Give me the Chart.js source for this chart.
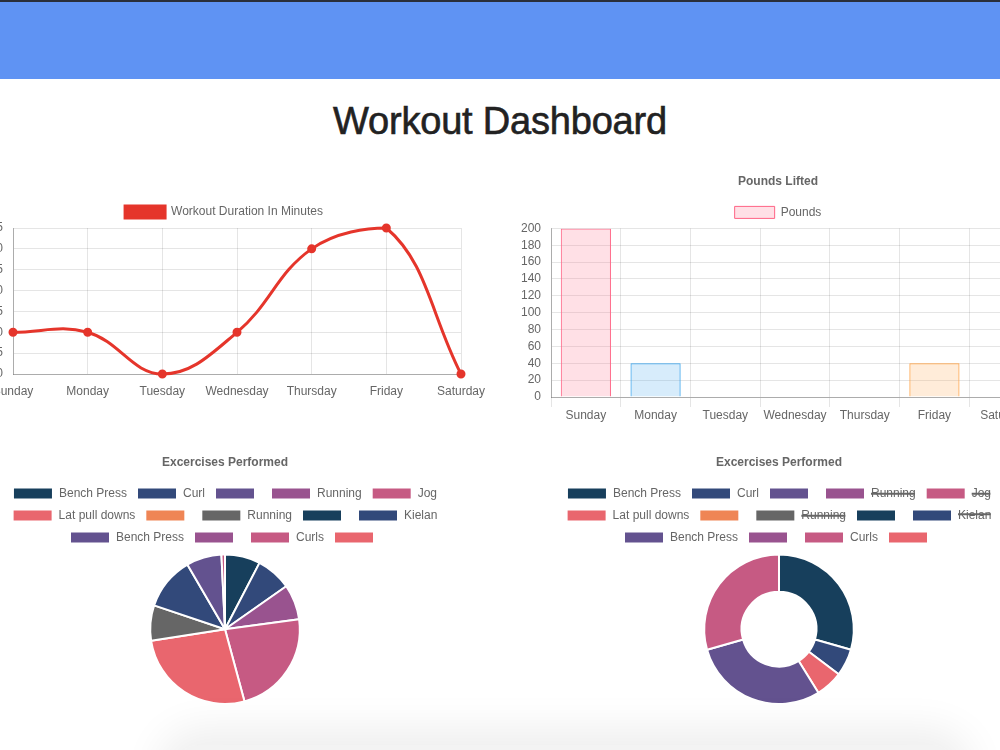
<!DOCTYPE html>
<html>
<head>
<meta charset="utf-8">
<script src="https://cdn.jsdelivr.net/npm/chart.js@4/dist/chart.umd.min.js"></script>
<style>
  html, body { margin: 0; padding: 0; background: #fff; width: 1000px; height: 750px; overflow: hidden; position: relative; font-family: "Liberation Sans", Arial, Helvetica, sans-serif; }
  #header { position: absolute; left: 0; top: 0; width: 1000px; height: 77px; background: #5f93f3; border-top: 2px solid #2a2f3a; }
  #title { position: absolute; left: 0; top: 97px; width: 1000px; text-align: center; font-size: 38px; color: #222; margin: 0; font-weight: normal; line-height: 48px; -webkit-text-stroke: 0.6px #222; letter-spacing: -0.2px; }
  canvas { position: absolute; }
  #card { position: absolute; left: 175px; top: 745px; width: 780px; height: 100px; border-radius: 24px; background: #f3f3f3; box-shadow: 0 0 40px 16px rgba(0,0,0,0.07); }
</style>
</head>
<body>
<div id="header"></div>
<h1 id="title">Workout Dashboard</h1>
<canvas id="lineChart" width="522" height="206" style="left:-37px; top:196px; width:522px; height:206px;"></canvas>
<canvas id="barChart" width="522" height="262" style="left:517px; top:166px; width:522px; height:262px;"></canvas>
<canvas id="pieChart" width="522" height="258" style="left:-36px; top:447px; width:522px; height:258px;"></canvas>
<canvas id="donutChart" width="522" height="258" style="left:518px; top:447px; width:522px; height:258px;"></canvas>
<div id="card"></div>
<script>
// ---------- data ----------
const days = ["Sunday", "Monday", "Tuesday", "Wednesday", "Thursday", "Friday", "Saturday"];
const durationMinutes = [10, 10, 0, 10, 30, 35, 0];
const poundsLifted = [200, 40, 0, 0, 0, 40, 0];
const durationTicks = { min: 0, max: 35, step: 5 };
const poundsTicks = { min: 0, max: 200, step: 20 };

const exerciseLabels = ["Bench Press", "Curl", "", "Running", "Jog", "Lat pull downs", "", "Running", "", "Kielan", "Bench Press", "", "Curls", ""];
const pieValues = [10, 10, 0, 10, 30, 35, 0, 10, 0, 15, 10, 0, 1, 0];
const donutValues = [5, 1, 0, 2, 6, 1, 0, 2, 0, 3, 5, 0, 5, 0];
const donutHidden = [3, 4, 7, 9];

// ---------- styles ----------
const exerciseColors = ["#173f5c", "#32497a", "#63528f", "#99538f", "#c65a83", "#e9666e", "#ef8555", "#666666", "#173f5c", "#32497a", "#63528f", "#99538f", "#c65a83", "#e9666e"];
const barFill = ["rgba(255,99,132,0.2)", "rgba(54,162,235,0.2)", "rgba(255,206,86,0.2)", "rgba(75,192,192,0.2)", "rgba(153,102,255,0.2)", "rgba(255,159,64,0.2)", "rgba(255,99,132,0.2)"];
const barBorder = ["rgba(255,99,132,1)", "rgba(54,162,235,1)", "rgba(255,206,86,1)", "rgba(75,192,192,1)", "rgba(153,102,255,1)", "rgba(255,159,64,1)", "rgba(255,99,132,1)"];
const lineRed = "#e5352b";

Chart.defaults.font.family = "'Helvetica Neue', Helvetica, Arial, 'Liberation Sans', sans-serif";
Chart.defaults.font.size = 12;
Chart.defaults.color = "#666";
Chart.defaults.devicePixelRatio = 1;
Chart.defaults.animation = false;

const gridColor = "rgba(0,0,0,0.1)";
const legendLabels = { boxWidth: 40, boxHeight: 12, padding: 10 };
const titleStyle = (text) => ({ display: true, text: text, color: "#666", font: { size: 12, weight: "bold" }, padding: { top: 8, bottom: 8 } });

// ---------- line ----------
new Chart(document.getElementById("lineChart"), {
  type: "line",
  data: {
    labels: days,
    datasets: [{
      label: "Workout Duration In Minutes",
      data: durationMinutes,
      borderColor: lineRed,
      backgroundColor: lineRed,
      borderWidth: 3,
      tension: 0.4,
      fill: false,
      clip: false,
      pointRadius: 3,
      pointBackgroundColor: lineRed,
      pointBorderColor: lineRed
    }]
  },
  options: {
    responsive: false,
    plugins: { legend: { labels: legendLabels }, title: { display: false }, tooltip: { enabled: false } },
    scales: {
      x: {
        grid: { color: gridColor, drawTicks: false },
        border: { color: "rgba(0,0,0,0.25)" },
        ticks: { padding: 10, maxRotation: 0, autoSkip: false },
        afterFit: (s) => { s.height = 28; s.paddingRight = 24; s.paddingLeft = 0; }
      },
      y: {
        min: durationTicks.min, max: durationTicks.max,
        grid: { color: gridColor, drawTicks: false },
        border: { color: "rgba(0,0,0,0.25)" },
        ticks: { stepSize: durationTicks.step, padding: 10, autoSkip: false },
        afterFit: (s) => { s.width = 50; }
      }
    }
  }
});

// ---------- bar ----------
new Chart(document.getElementById("barChart"), {
  type: "bar",
  data: {
    labels: days,
    datasets: [{
      label: "Pounds",
      data: poundsLifted,
      backgroundColor: barFill,
      borderColor: barBorder,
      borderWidth: 1
    }]
  },
  options: {
    responsive: false,
    plugins: { legend: { labels: legendLabels }, title: titleStyle("Pounds Lifted"), tooltip: { enabled: false } },
    scales: {
      x: {
        grid: { color: gridColor, tickLength: 10, offset: true },
        border: { color: "rgba(0,0,0,0.25)" },
        ticks: { padding: 1, maxRotation: 0, autoSkip: false },
        afterFit: (s) => { s.height = 31; }
      },
      y: {
        min: poundsTicks.min, max: poundsTicks.max,
        grid: { color: gridColor, drawTicks: false },
        border: { color: "rgba(0,0,0,0.25)" },
        ticks: { stepSize: poundsTicks.step, padding: 10, autoSkip: false },
        afterFit: (s) => { s.width = 34; }
      }
    }
  }
});

// ---------- pie ----------
new Chart(document.getElementById("pieChart"), {
  type: "pie",
  data: {
    labels: exerciseLabels,
    datasets: [{ data: pieValues, backgroundColor: exerciseColors, borderColor: "#fff", borderWidth: 2 }]
  },
  options: {
    responsive: false,
    plugins: { legend: { labels: legendLabels }, title: titleStyle("Excercises Performed"), tooltip: { enabled: false } }
  }
});

// ---------- doughnut ----------
const donut = new Chart(document.getElementById("donutChart"), {
  type: "doughnut",
  data: {
    labels: exerciseLabels,
    datasets: [{ data: donutValues, backgroundColor: exerciseColors, borderColor: "#fff", borderWidth: 2 }]
  },
  options: {
    responsive: false,
    cutout: "50%",
    plugins: { legend: { labels: legendLabels }, title: titleStyle("Excercises Performed"), tooltip: { enabled: false } }
  }
});
donutHidden.forEach(i => donut.toggleDataVisibility(i));
donut.update();
</script>
</body>
</html>
